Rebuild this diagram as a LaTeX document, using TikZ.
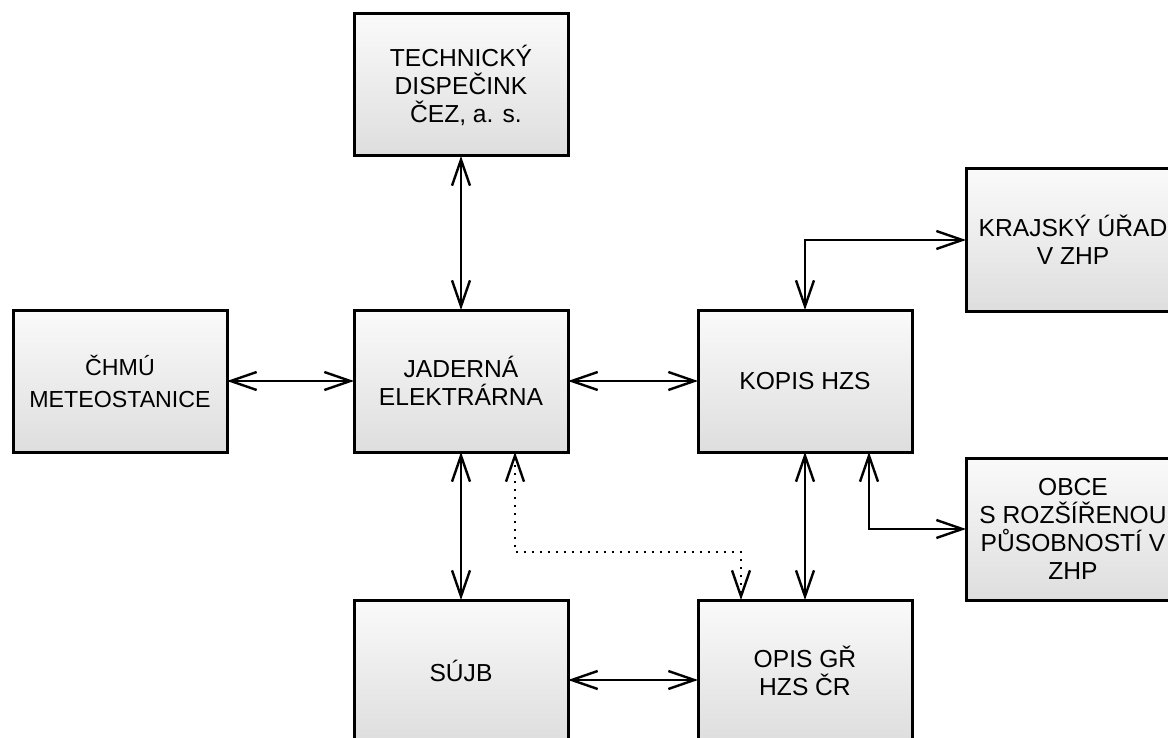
\documentclass[tikz,border=0pt]{standalone}
\usepackage{fontspec}
\setmainfont{Liberation Sans}
\usepackage{tikz}
\usetikzlibrary{arrows.meta}
\tikzstyle{blok}=[rectangle, draw=black, line width=1.5pt, top color=white!98!black, bottom color=white!87!black, minimum width=107pt, minimum height=71pt, inner sep=0pt, outer sep=0pt, align=center, font=\fontsize{12.3}{14}\selectfont]
\tikzstyle{spoj}=[line width=1.2pt, {Straight Barb[length=13pt,width=9pt]}-{Straight Barb[length=13pt,width=9pt]}]
\tikzstyle{tecky}=[dash pattern=on 1pt off 3pt]

\begin{document}
\begin{tikzpicture}[x=0.5pt,y=-0.5pt]
	\useasboundingbox (0,0) rectangle (1168,738);
	\clip (0,0) rectangle (1168,738);
	\node[blok] (ted) at (461,85) {TECHNICKÝ\\DISPEČINK\\\hspace{0.4em}ČEZ, a. s.};
	\node[blok, font=\fontsize{11.6}{16}\selectfont] (chmu) at (120,381) {ČHMÚ\\METEOSTANICE};
	\node[blok] (jad) at (461,381) {JADERNÁ\\ELEKTRÁRNA};
	\node[blok] (kopis) at (805,381) {KOPIS HZS};
	\node[blok] (kraj) at (1073,240) {KRAJSKÝ ÚŘAD\\V ZHP};
	\node[blok] (obce) at (1073,529) {OBCE\\S ROZŠÍŘENOU\\PŮSOBNOSTÍ V\\ZHP};
	\node[blok] (sujb) at (461,671) {SÚJB};
	\node[blok] (opis) at (805,671) {OPIS GŘ\\HZS ČR};
	\coordinate (s1) at (0,680);
	\coordinate (o1) at (869,0);
	\coordinate (d1) at (515,552);
	\coordinate (d2) at (741,552);
	\path[draw=black, spoj] (ted) -- (jad);
	\path[draw=black, spoj] (chmu) -- (jad);
	\path[draw=black, spoj] (jad) -- (kopis);
	\path[draw=black, spoj] (jad) -- (sujb);
	\path[draw=black, spoj] (kopis) -- (opis);
	\path[draw=black, spoj] (sujb.east |- s1) -- (opis.west |- s1);
	\path[draw=black, spoj] (kopis.north) |- (kraj.west);
	\path[draw=black, spoj] (kopis.south -| o1) |- (obce.west);
	\path[draw=black, spoj, tecky] (jad.south -| d1) -- (d1) -- (d2) -- (opis.north -| d2);
\end{tikzpicture}
\end{document}
